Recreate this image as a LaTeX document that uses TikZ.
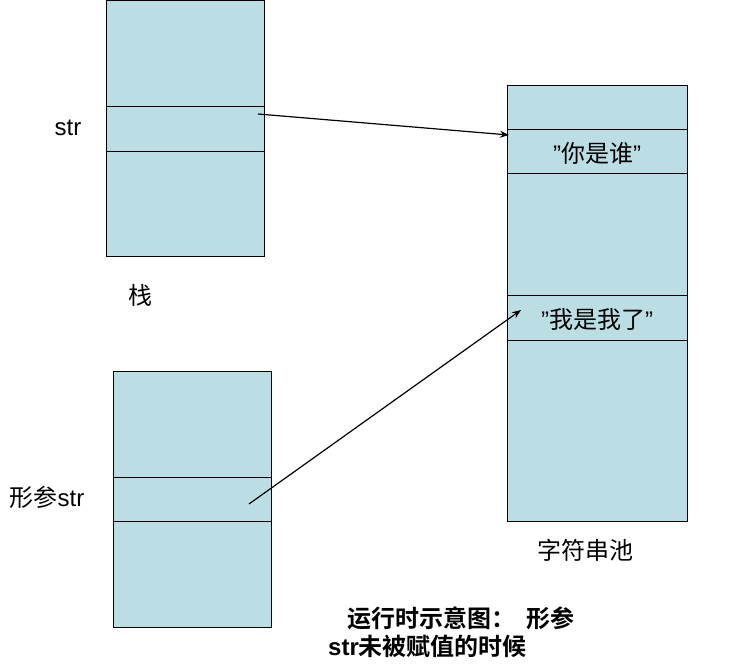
\documentclass[tikz,border=0pt]{standalone}
\usepackage{fontspec}
\setmainfont{Liberation Sans}
\newfontfamily\cjk{Noto Sans CJK SC}
\newfontfamily\cjkb{Noto Sans CJK SC Bold}
\usetikzlibrary{arrows.meta}
\definecolor{cellblue}{RGB}{186,222,228}
\tikzset{
  cell/.style={draw=black, fill=cellblue, line width=1pt, inner sep=0pt, anchor=north west},
  lbl/.style={font=\fontsize{24}{26}\selectfont, inner sep=0pt},
  ptr/.style={line width=1.2pt, -{Stealth[length=9pt,width=7pt]}}
}
\begin{document}
\begin{tikzpicture}[x=1pt,y=-1pt]
\useasboundingbox (0,0) rectangle (739,664);
% stack box
\node[cell, minimum width=158pt, minimum height=106pt] (s1) at (106,0) {};
\node[cell, minimum width=158pt, minimum height=45pt] (s2) at (106,106) {};
\node[cell, minimum width=158pt, minimum height=105pt] (s3) at (106,151) {};
% parameter box
\node[cell, minimum width=158pt, minimum height=106pt] (p1) at (113,371) {};
\node[cell, minimum width=158pt, minimum height=44pt] (p2) at (113,477) {};
\node[cell, minimum width=158pt, minimum height=106pt] (p3) at (113,521) {};
% string pool
\node[cell, minimum width=180pt, minimum height=44pt] (c1) at (507,85) {};
\node[cell, minimum width=180pt, minimum height=44pt] (c2) at (507,129) {};
\node[cell, minimum width=180pt, minimum height=122pt] (c3) at (507,173) {};
\node[cell, minimum width=180pt, minimum height=45pt] (c4) at (507,295) {};
\node[cell, minimum width=180pt, minimum height=181pt] (c5) at (507,340) {};
% texts
\node[lbl] (t1) at (597,153) {"{\cjk 你是谁}"};
\node[lbl] (t2) at (597,320) {"{\cjk 我是我了}"};
\node[lbl] (lstr) at (68,128) {str};
\node[lbl] (lstack) at (140,295) {\cjk 栈};
\node[lbl] (lparam) at (47,497) {{\cjk 形参}str};
\node[lbl] (lpool) at (585,550) {\cjk 字符串池};
\node[lbl, anchor=west] (cap1) at (347,618) {\cjkb 运行时示意图：\ \ 形参};
\node[lbl, anchor=west] (cap2) at (328,646) {\textbf{str}{\cjkb 未被赋值的时候}};
% pointers
\coordinate (a1s) at (258,114);
\coordinate (a1e) at (509,135);
\coordinate (a2s) at (249,504);
\coordinate (a2e) at (521,310);
\draw[ptr] (a1s) -- (a1e);
\draw[ptr] (a2s) -- (a2e);
\end{tikzpicture}
\end{document}
